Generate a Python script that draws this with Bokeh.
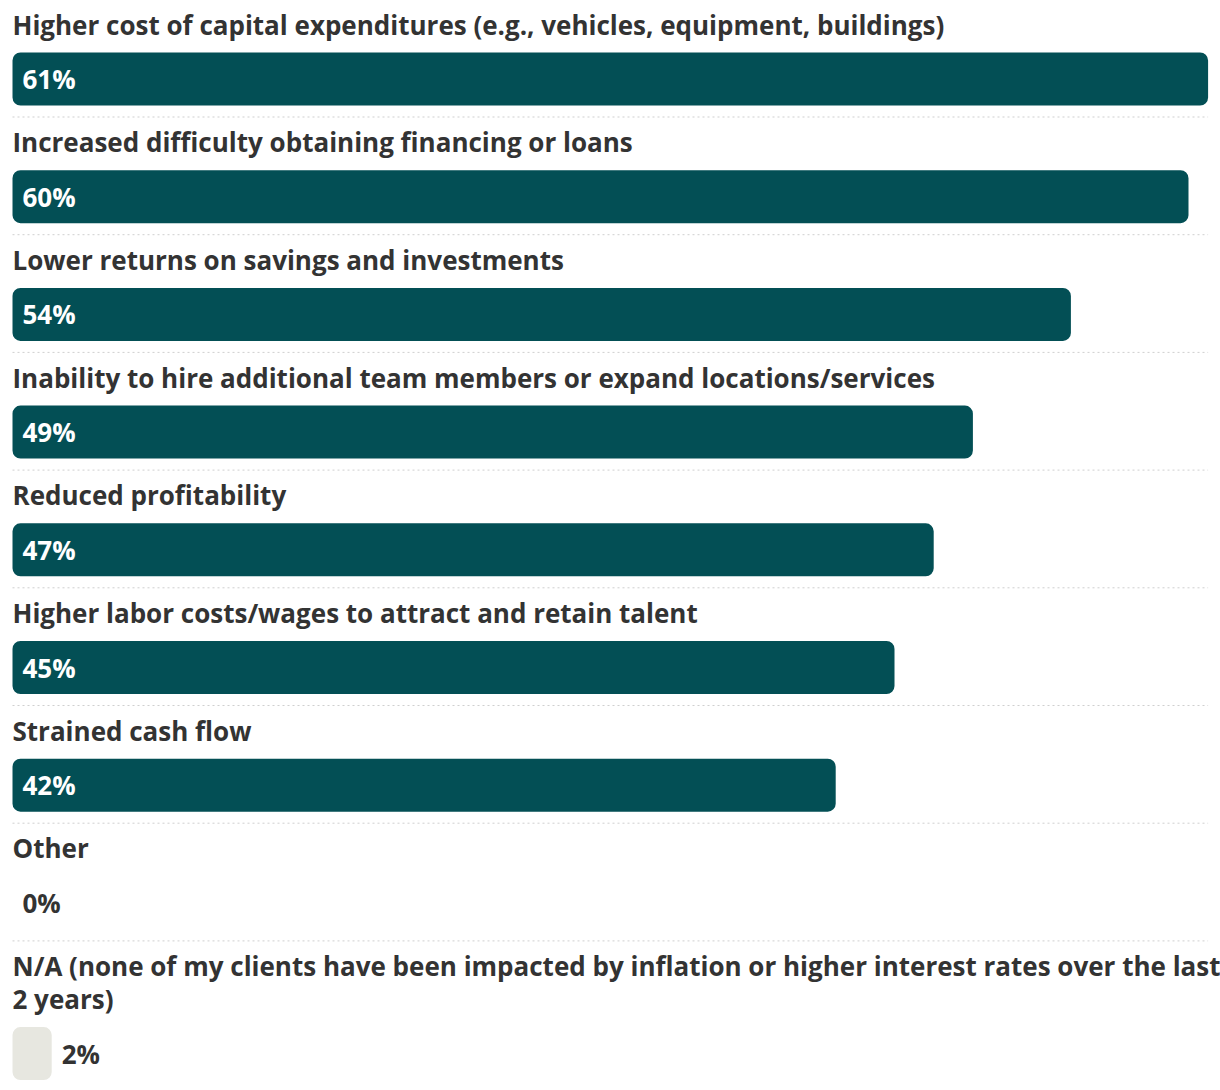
import textwrap
from bokeh.plotting import figure
from bokeh.models import Range1d, ColumnDataSource
from bokeh.core.properties import value
from bokeh.embed import file_html
from bokeh.resources import INLINE

categories = [
    "Higher cost of capital expenditures (e.g., vehicles, equipment, buildings)",
    "Increased difficulty obtaining financing or loans",
    "Lower returns on savings and investments",
    "Inability to hire additional team members or expand locations/services",
    "Reduced profitability",
    "Higher labor costs/wages to attract and retain talent",
    "Strained cash flow",
    "Other",
    "N/A (none of my clients have been impacted by inflation or higher interest rates over the last 2 years)",
]
values = [61, 60, 54, 49, 47, 45, 42, 0, 2]
value_labels = ["61%", "60%", "54%", "49%", "47%", "45%", "42%", "0%", "2%"]
is_na = [False, False, False, False, False, False, False, False, True]

DARK = "#034f55"
LIGHT = "#e7e7e0"
TEXT = "#333333"
FONT = "Open Sans"
FSIZE = "26px"

W, H = 1220, 1090
PX_PER_UNIT = 19.6
PAD_L = 12

xmax = max(values)
x0 = -PAD_L / PX_PER_UNIT
x1 = x0 + W / PX_PER_UNIT

p = figure(width=W, height=H, output_backend="svg", toolbar_location=None,
           x_range=Range1d(x0, x1), y_range=Range1d(H, 0),
           min_border=0, min_border_left=0, min_border_right=0,
           min_border_top=0, min_border_bottom=0)
p.axis.visible = False
p.grid.visible = False
p.outline_line_color = None
p.background_fill_color = "white"
p.border_fill_color = "white"

PITCH = 117.7
LINE_H = 33
line_x, line_y, line_t = [], [], []
bar_y, bar_col = [], []
vx, vy, vcol, vtext = [], [], [], []
sep_y = []
extra = 0.0
for i, (cat, v, lab, na) in enumerate(zip(categories, values, value_labels, is_na)):
    y0 = i * PITCH + extra
    lines = textwrap.wrap(cat, width=95)
    for j, ln in enumerate(lines):
        line_x.append(0)
        line_y.append(y0 + 24 + j * LINE_H)
        line_t.append(ln)
    add = (len(lines) - 1) * LINE_H
    by = y0 + 78.5 + add
    bar_y.append(by)
    bar_col.append(LIGHT if na else DARK)
    if na or v == 0:
        vx.append(v); vcol.append(TEXT)
    else:
        vx.append(0); vcol.append("white")
    vy.append(by); vtext.append(lab)
    if i < len(categories) - 1:
        sep_y.append(y0 + 116.5 + add)
    extra += add

bars = ColumnDataSource(dict(y=bar_y, right=values, color=bar_col))
p.hbar(y="y", left=0, right="right", height=53, source=bars,
       fill_color="color", line_color=None, border_radius=8)

p.segment(x0=[0] * len(sep_y), x1=[xmax] * len(sep_y), y0=sep_y, y1=sep_y,
          line_color="#cfcfcf", line_width=1, line_dash="2 3")

p.text(x=line_x, y=line_y, text=line_t, text_font=value(FONT),
       text_font_size=FSIZE, text_font_style="bold", text_color=TEXT,
       text_align="left", text_baseline="middle")

vals = ColumnDataSource(dict(x=vx, y=vy, text=vtext, color=vcol))
p.text(x="x", y="y", text="text", source=vals, x_offset=10,
       text_font=value(FONT), text_font_size=FSIZE, text_font_style="bold",
       text_color="color", text_align="left", text_baseline="middle")

open("out.html", "w").write(file_html(p, INLINE))
